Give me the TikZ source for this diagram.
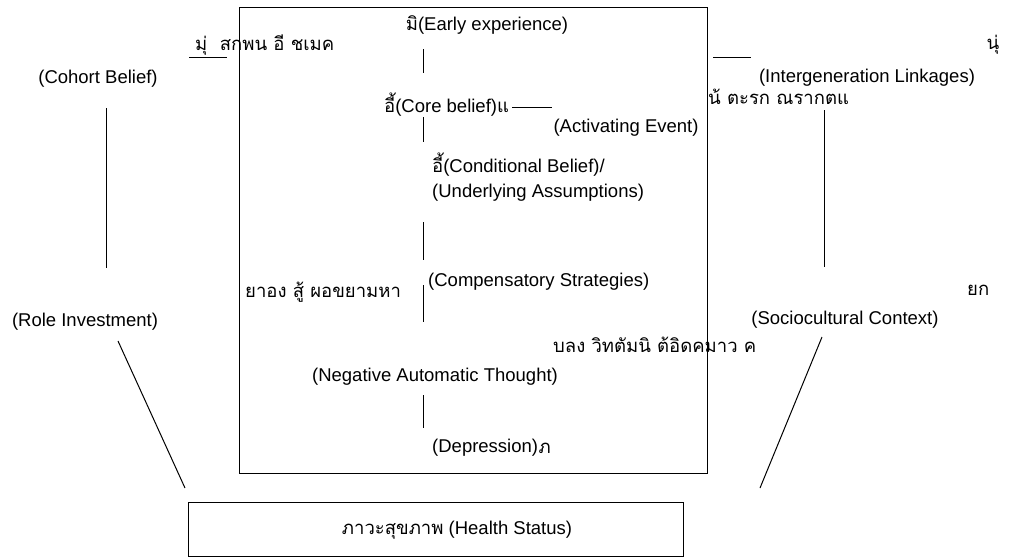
\documentclass[tikz,border=0pt]{standalone}
\usepackage{fontspec}
\setmainfont{Liberation Sans}
\newfontfamily\thaifont[Script=Thai]{Loma}
\usetikzlibrary{positioning,calc}

\begin{document}
\begin{tikzpicture}[x=1pt, y=-1pt, font=\fontsize{18.5}{22}\selectfont,
    lbl/.style={inner sep=0pt},
    th/.style={inner sep=0pt, font=\fontsize{18.5}{22}\selectfont\thaifont},
    link/.style={line width=1pt}]
    \useasboundingbox (0,0) rectangle (1022,557);

    % CBT frame
    \draw [link] (239,7) rectangle (707,473);
    \node [lbl] (early) at (487,25) {{\thaifont มิ}(Early experience)};
    \node [lbl, anchor=west] (core) at (384,105) {{\thaifont อี้}(Core belief){\thaifont แ}};
    \node [lbl, anchor=center] (event) at (626,128) {(Activating Event)};
    \node [lbl, anchor=west] (cond) at (432,165) {{\thaifont อี้}(Conditional Belief)/};
    \node [lbl, anchor=west] (assump) at (432,193) {(Underlying Assumptions)};
    \node [lbl, anchor=west] (comp) at (428,282) {(Compensatory Strategies)};
    \node [lbl] (neg) at (435,377) {(Negative Automatic Thought)};
    \node [lbl, anchor=west] (dep) at (432,448) {(Depression)};
    \node [th, anchor=west] (dep_th) at (dep.east) {ภ};

    % Thai fragments
    \node [th, anchor=west] (cohort_th) at (195,45) {มุ่ \ สกพน อี ชเมค};
    \node [th, anchor=west] (link_th) at (708,97) {น้ ตะรก ณรากตแ};
    \node [th] (link_th2) at (993,45) {นุ่};
    \node [th, anchor=west] (role_th) at (245,292) {ยาอง สู้ ผอขยามหา};
    \node [th, anchor=west] (socio_th) at (967,290) {ยก};
    \node [th, anchor=west] (socio_th2) at (553,345) {บลง วิทตัมนิ ต้อิดคมาว ค};

    % outside factors
    \node [lbl] (cohort) at (98,79) {(Cohort Belief)};
    \node [lbl] (role) at (85,322) {(Role Investment)};
    \node [lbl] (inter) at (867,78) {(Intergeneration Linkages)};
    \node [lbl] (socio) at (845,320) {(Sociocultural Context)};

    % Health status
    \draw [link] (188,502) rectangle (683,556);
    \node [lbl] (health) at (457,530) {{\thaifont ภาวะสุขภาพ} (Health Status)};

    % stubs
    \coordinate (c1) at (423,49);  \coordinate (c2) at (423,73);
    \coordinate (c3) at (423,117); \coordinate (c4) at (423,142);
    \coordinate (c5) at (423,222); \coordinate (c6) at (423,260);
    \coordinate (c7) at (423,285); \coordinate (c8) at (423,322);
    \coordinate (c9) at (423,395); \coordinate (c10) at (423,428);
    \draw [link] (c1) -- (c2);
    \draw [link] (c3) -- (c4);
    \draw [link] (c5) -- (c6);
    \draw [link] (c7) -- (c8);
    \draw [link] (c9) -- (c10);

    \coordinate (h1) at (189,57); \coordinate (h2) at (227,57);
    \coordinate (h3) at (713,57); \coordinate (h4) at (751,57);
    \coordinate (h5) at (512,107); \coordinate (h6) at (552,107);
    \draw [link] (h1) -- (h2);
    \draw [link] (h3) -- (h4);
    \draw [link] (h5) -- (h6);

    % side lines
    \coordinate (l1) at (106,108); \coordinate (l2) at (106,268);
    \coordinate (r1) at (824,110); \coordinate (r2) at (824,267);
    \draw [link] (l1) -- (l2);
    \draw [link] (r1) -- (r2);
    \coordinate (d1) at (118,341); \coordinate (d2) at (185,488);
    \coordinate (d3) at (822,337); \coordinate (d4) at (760,488);
    \draw [link] (d1) -- (d2);
    \draw [link] (d3) -- (d4);
\end{tikzpicture}
\end{document}
